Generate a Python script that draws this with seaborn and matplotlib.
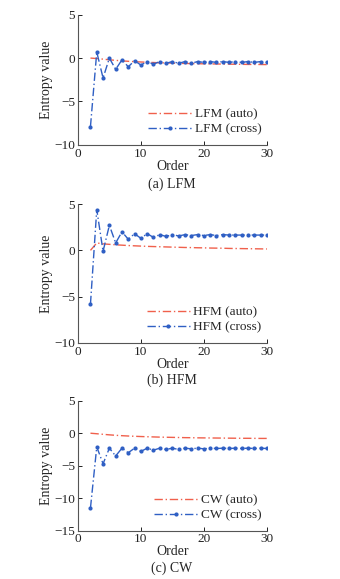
import numpy as np
import pandas as pd
import seaborn as sns
import matplotlib.pyplot as plt

order = list(range(2, 31))

# values
lfm_auto = [0.0, -0.05, -0.12, -0.2, -0.26, -0.32, -0.37, -0.41, -0.45, -0.48, -0.51, -0.54,
            -0.56, -0.58, -0.6, -0.62, -0.63, -0.65, -0.66, -0.67, -0.68, -0.69, -0.7, -0.71,
            -0.72, -0.73, -0.73, -0.74, -0.75]
lfm_cross = [-7.9, 0.7, -2.3, 0.0, -1.3, -0.2, -1.0, -0.3, -0.8, -0.4, -0.7, -0.4, -0.6,
             -0.4, -0.6, -0.4, -0.6, -0.4, -0.5, -0.4, -0.5, -0.4, -0.5, -0.4, -0.5, -0.4,
             -0.5, -0.4, -0.5]
hfm_auto = [0.0, 0.8, 0.7, 0.65, 0.6, 0.56, 0.52, 0.49, 0.46, 0.43, 0.41, 0.39, 0.37, 0.35,
            0.33, 0.31, 0.3, 0.28, 0.27, 0.25, 0.24, 0.23, 0.21, 0.2, 0.19, 0.18, 0.17, 0.16,
            0.15]
hfm_cross = [-5.8, 4.4, -0.1, 2.7, 0.8, 2.0, 1.2, 1.8, 1.3, 1.8, 1.4, 1.7, 1.5, 1.7, 1.55,
             1.7, 1.6, 1.7, 1.6, 1.7, 1.6, 1.7, 1.65, 1.65, 1.65, 1.65, 1.65, 1.65, 1.65]
cw_auto = [0.0, -0.08, -0.17, -0.25, -0.32, -0.38, -0.43, -0.47, -0.51, -0.54, -0.57, -0.6,
           -0.62, -0.64, -0.66, -0.68, -0.69, -0.71, -0.72, -0.73, -0.74, -0.75, -0.76, -0.77,
           -0.78, -0.78, -0.79, -0.8, -0.8]
cw_cross = [-11.5, -2.1, -4.7, -2.3, -3.5, -2.3, -3.0, -2.3, -2.8, -2.3, -2.6, -2.3, -2.5,
            -2.3, -2.5, -2.3, -2.4, -2.3, -2.4, -2.3, -2.35, -2.3, -2.35, -2.3, -2.35, -2.3,
            -2.35, -2.3, -2.35]

panels = [
    ("LFM", lfm_auto, lfm_cross, (-10, 5), [-10, -5, 0, 5], "(a) LFM"),
    ("HFM", hfm_auto, hfm_cross, (-10, 5), [-10, -5, 0, 5], "(b) HFM"),
    ("CW", cw_auto, cw_cross, (-15, 5), [-15, -10, -5, 0, 5], "(c) CW"),
]

sns.set_theme(style="ticks")
plt.rcParams["font.family"] = ["Liberation Serif", "DejaVu Serif"]

fig = plt.figure(figsize=(3.4, 5.79), dpi=100)

# axes rectangles in figure fractions (left, bottom, width, height)
rects = [
    (0.229, 0.750, 0.556, 0.2245),
    (0.229, 0.4076, 0.556, 0.240),
    (0.229, 0.0834, 0.556, 0.2245),
]
caption_y = [1 - 184 / 579, 1 - 380 / 579, 1 - 568 / 579]

red = "#f0604c"
blue = "#2f5fc4"
fs = 9.5

for (name, auto, cross, ylim, yt, cap), rect, cy in zip(panels, rects, caption_y):
    ax = fig.add_axes(rect)
    df = pd.DataFrame({"Order": order, "auto": auto, "cross": cross})
    sns.lineplot(data=df, x="Order", y="auto", ax=ax, color=red, linestyle=(0, (6, 2, 1, 2)),
                 linewidth=1.0, label=f"{name} (auto)")
    sns.lineplot(data=df, x="Order", y="cross", ax=ax, color=blue, linestyle=(0, (6, 2, 1, 2)),
                 linewidth=1.0, marker="o", markersize=3, markeredgewidth=0,
                 label=f"{name} (cross)")
    ax.set_xlim(0, 30)
    ax.set_ylim(*ylim)
    ax.set_xticks([0, 10, 20, 30])
    ax.set_yticks(yt)
    ax.set_yticklabels(["\u2212" + str(-v) if v < 0 else str(v) for v in yt])
    ax.tick_params(direction="in", length=3, width=0.7, labelsize=fs, pad=2,
                   colors="#222222")
    for s in ["top", "right"]:
        ax.spines[s].set_visible(False)
    for s in ["left", "bottom"]:
        ax.spines[s].set_color("#555555")
        ax.spines[s].set_linewidth(0.8)
    ax.set_xlabel("Order", fontsize=fs + 0.5, labelpad=0)
    ax.set_ylabel("Entropy value", fontsize=fs + 0.5, labelpad=1)
    ax.legend(loc="lower right", frameon=False, fontsize=fs, handlelength=3.3,
              handletextpad=0.25, labelspacing=0.2, borderaxespad=0.0,
              bbox_to_anchor=(1.0, 0.03))
    fig.text(0.505, cy, cap, ha="center", va="center", fontsize=fs + 0.5)

fig.savefig("out.png", dpi=100)
